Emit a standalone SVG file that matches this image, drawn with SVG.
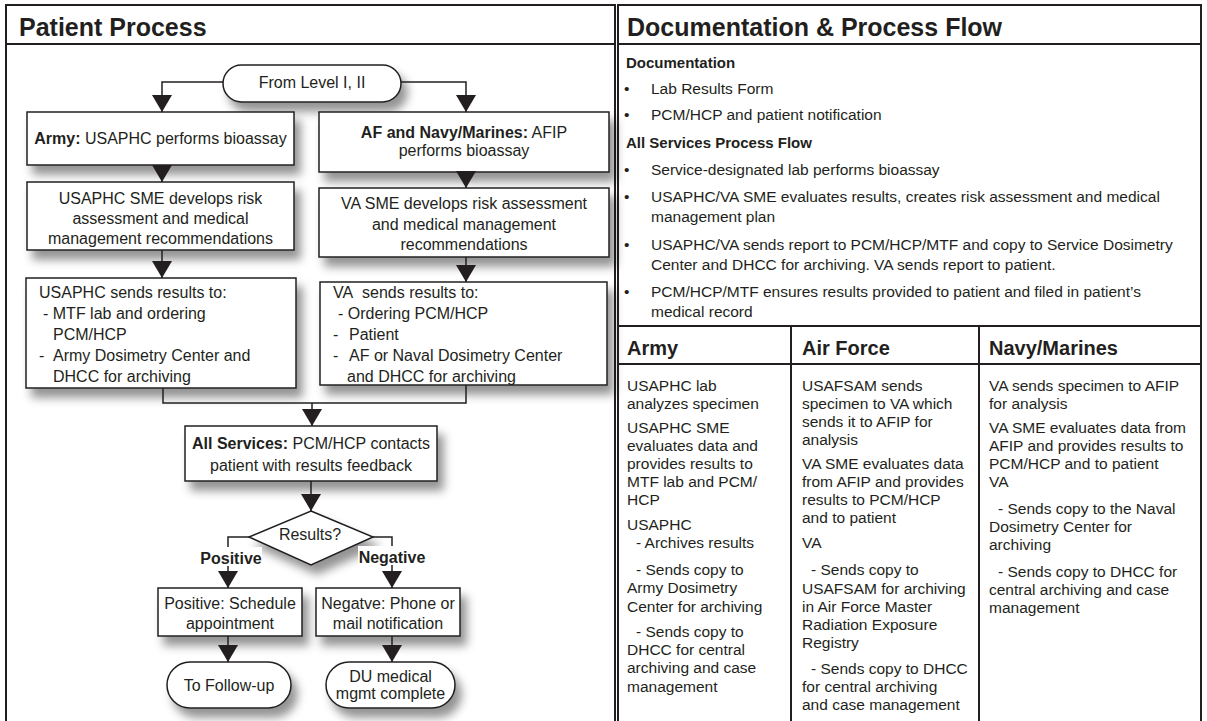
<svg xmlns="http://www.w3.org/2000/svg" width="1207" height="721" viewBox="0 0 1207 721">
<style>
.t{font-family:"Liberation Sans",Arial,Helvetica,sans-serif;fill:#231f20}
.f16{font-size:16px}
.c{text-anchor:middle}
.b{font-weight:bold}
.h{font-size:25px;font-weight:bold}
.p{font-size:15.5px}
.pb{font-size:15px;font-weight:bold}
.th{font-size:20px;font-weight:bold}
.box{fill:#fff;stroke:#231f20;stroke-width:1.5}
.frame{fill:none;stroke:#231f20;stroke-width:2}
.conn{fill:none;stroke:#231f20;stroke-width:1.5}
.arr{fill:none;stroke:#231f20;stroke-width:1.5;marker-end:url(#ah)}
</style>
<defs>
<filter id="sh" x="-20%" y="-30%" width="150%" height="190%">
<feDropShadow dx="6" dy="9" stdDeviation="5" flood-color="#000" flood-opacity="0.42"/>
</filter>
<marker id="ah" viewBox="0 0 17 20" refX="17" refY="10" markerWidth="17" markerHeight="20" markerUnits="userSpaceOnUse" orient="auto">
<path d="M0,0 L17,10 L0,20 z" fill="#231f20"/>
</marker>
</defs>
<rect x="0" y="0" width="1207" height="721" fill="#fff"/>

<g id="panel-left">
<rect class="frame" x="6" y="5" width="609" height="730"/>
<line class="frame" x1="6" y1="44" x2="615" y2="44"/>
<text class="t h" x="19" y="35.5">Patient Process</text>
</g>

<g id="panel-right">
<rect class="frame" x="618" y="5" width="583" height="730"/>
<line class="frame" x1="618" y1="44" x2="1201" y2="44"/>
<line class="frame" x1="618" y1="326" x2="1201" y2="326"/>
<line class="frame" x1="618" y1="364" x2="1201" y2="364"/>
<line class="frame" x1="791" y1="326" x2="791" y2="721"/>
<line class="frame" x1="979" y1="326" x2="979" y2="721"/>
<text class="t h" x="627" y="35.5">Documentation &amp; Process Flow</text>
<text class="t pb" x="626" y="68">Documentation</text>
<g class="t p">
<text x="624" y="93.5">•</text><text x="651" y="93.5">Lab Results Form</text>
<text x="624" y="119.5">•</text><text x="651" y="119.5">PCM/HCP and patient notification</text>
</g>
<text class="t pb" x="626" y="147.5">All Services Process Flow</text>
<g class="t p">
<text x="624" y="174.5">•</text><text x="651" y="174.5">Service-designated lab performs bioassay</text>
<text x="624" y="201.5">•</text><text x="651" y="201.5">USAPHC/VA SME evaluates results, creates risk assessment and medical</text>
<text x="651" y="221.5">management plan</text>
<text x="624" y="249.5">•</text><text x="651" y="249.5">USAPHC/VA sends report to PCM/HCP/MTF and copy to Service Dosimetry</text>
<text x="651" y="269.5">Center and DHCC for archiving. VA sends report to patient.</text>
<text x="624" y="296.5">•</text><text x="651" y="296.5">PCM/HCP/MTF ensures results provided to patient and filed in patient’s</text>
<text x="651" y="316.5">medical record</text>
</g>
<text class="t th" x="627" y="355">Army</text>
<text class="t th" x="802" y="355">Air Force</text>
<text class="t th" x="989" y="355">Navy/Marines</text>
<g class="t p">
<text x="627" y="390.5">USAPHC lab</text>
<text x="627" y="408.5">analyzes specimen</text>
<text x="627" y="432.5">USAPHC SME</text>
<text x="627" y="450.5">evaluates data and</text>
<text x="627" y="468.5">provides results to</text>
<text x="627" y="487">MTF lab and PCM/</text>
<text x="627" y="505">HCP</text>
<text x="627" y="530">USAPHC</text>
<text x="636" y="548">- Archives results</text>
<text x="636" y="575">- Sends copy to</text>
<text x="627" y="593">Army Dosimetry</text>
<text x="627" y="611.5">Center for archiving</text>
<text x="636" y="637">- Sends copy to</text>
<text x="627" y="655">DHCC for central</text>
<text x="627" y="673">archiving and case</text>
<text x="627" y="691.5">management</text>

<text x="802" y="390.5">USAFSAM sends</text>
<text x="802" y="408.5">specimen to VA which</text>
<text x="802" y="426.5">sends it to AFIP for</text>
<text x="802" y="444.5">analysis</text>
<text x="802" y="468.5">VA SME evaluates data</text>
<text x="802" y="486.5">from AFIP and provides</text>
<text x="802" y="504.5">results to PCM/HCP</text>
<text x="802" y="522.5">and to patient</text>
<text x="802" y="548">VA</text>
<text x="811" y="575">- Sends copy to</text>
<text x="802" y="593.5">USAFSAM for archiving</text>
<text x="802" y="611.5">in Air Force Master</text>
<text x="802" y="629.5">Radiation Exposure</text>
<text x="802" y="647.5">Registry</text>
<text x="811" y="673.5">- Sends copy to DHCC</text>
<text x="802" y="691.5">for central archiving</text>
<text x="802" y="709.5">and case management</text>

<text x="989" y="390.5">VA sends specimen to AFIP</text>
<text x="989" y="408.5">for analysis</text>
<text x="989" y="432.5">VA SME evaluates data from</text>
<text x="989" y="450.5">AFIP and provides results to</text>
<text x="989" y="468.5">PCM/HCP and to patient</text>
<text x="989" y="487">VA</text>
<text x="998" y="514">- Sends copy to the Naval</text>
<text x="989" y="532">Dosimetry Center for</text>
<text x="989" y="550">archiving</text>
<text x="998" y="577">- Sends copy to DHCC for</text>
<text x="989" y="595">central archiving and case</text>
<text x="989" y="613">management</text>
</g>
</g>

<g id="node-start">
<rect class="box" filter="url(#sh)" x="223" y="65" width="178" height="37" rx="18.5"/>
<text class="t f16 c" x="312" y="88">From Level I, II</text>
</g>
<g id="node-army">
<rect class="box" filter="url(#sh)" x="27" y="112" width="267" height="53"/>
<text class="t f16 c" x="160.5" y="144"><tspan class="b">Army:</tspan> USAPHC performs bioassay</text>
</g>
<g id="node-af">
<rect class="box" filter="url(#sh)" x="319" y="112" width="290" height="60"/>
<text class="t f16 c" x="464" y="137.5"><tspan class="b">AF and Navy/Marines:</tspan> AFIP</text>
<text class="t f16 c" x="464" y="156">performs bioassay</text>
</g>
<g id="node-sme-army">
<rect class="box" filter="url(#sh)" x="27" y="182" width="267" height="68"/>
<text class="t f16 c" x="160.5" y="203.5">USAPHC SME develops risk</text>
<text class="t f16 c" x="160.5" y="223.5">assessment and medical</text>
<text class="t f16 c" x="160.5" y="243.5">management recommendations</text>
</g>
<g id="node-sme-va">
<rect class="box" filter="url(#sh)" x="319" y="188" width="290" height="69"/>
<text class="t f16 c" x="464" y="209">VA SME develops risk assessment</text>
<text class="t f16 c" x="464" y="229.5">and medical management</text>
<text class="t f16 c" x="464" y="250">recommendations</text>
</g>
<g id="node-sends-army">
<rect class="box" filter="url(#sh)" x="26" y="278" width="270" height="110"/>
<text class="t f16" x="39" y="297.5">USAPHC sends results to:</text>
<text class="t f16" x="43" y="318.5">- MTF lab and ordering</text>
<text class="t f16" x="53" y="339.5">PCM/HCP</text>
<text class="t f16" x="39" y="361">-</text>
<text class="t f16" x="53" y="361">Army Dosimetry Center and</text>
<text class="t f16" x="53" y="382">DHCC for archiving</text>
</g>
<g id="node-sends-va">
<rect class="box" filter="url(#sh)" x="320" y="282" width="287" height="103"/>
<text class="t f16" x="333" y="297.5">VA&#160; sends results to:</text>
<text class="t f16" x="338" y="318.5">- Ordering PCM/HCP</text>
<text class="t f16" x="333" y="339.5">-</text>
<text class="t f16" x="349" y="339.5">Patient</text>
<text class="t f16" x="333" y="361">-</text>
<text class="t f16" x="349" y="361">AF or Naval Dosimetry Center</text>
<text class="t f16" x="347" y="381.5">and DHCC for archiving</text>
</g>
<g id="node-all">
<rect class="box" filter="url(#sh)" x="185" y="426" width="252" height="55"/>
<text class="t f16 c" x="311" y="448.5"><tspan class="b">All Services:</tspan> PCM/HCP contacts</text>
<text class="t f16 c" x="311" y="470.5">patient with results feedback</text>
</g>
<g id="node-results">
<polygon class="box" filter="url(#sh)" points="311,511 373,537 311,565 249,537"/>
<text class="t f16 c" x="310" y="539.5">Results?</text>
</g>
<g id="node-positive">
<rect class="box" filter="url(#sh)" x="158" y="588" width="144" height="48"/>
<text class="t f16 c" x="230" y="608.5">Positive: Schedule</text>
<text class="t f16 c" x="230" y="628.5">appointment</text>
</g>
<g id="node-negative">
<rect class="box" filter="url(#sh)" x="316" y="588" width="144" height="48"/>
<text class="t f16 c" x="388" y="608.5">Negatve: Phone or</text>
<text class="t f16 c" x="388" y="628.5">mail notification</text>
</g>
<g id="node-followup">
<rect class="box" filter="url(#sh)" x="167" y="662" width="124" height="46" rx="23"/>
<text class="t f16 c" x="229" y="690.5">To Follow-up</text>
</g>
<g id="node-du">
<rect class="box" filter="url(#sh)" x="326" y="662" width="129" height="46" rx="23"/>
<text class="t f16 c" x="390.5" y="681.5">DU medical</text>
<text class="t f16 c" x="390.5" y="698.5">mgmt complete</text>
</g>

<g id="connectors">
<polyline class="arr" points="223,82 162,82 162,112"/>
<polyline class="arr" points="401,82 466,82 466,112"/>
<line class="arr" x1="162" y1="165" x2="162" y2="182"/>
<line class="arr" x1="466" y1="172" x2="466" y2="188"/>
<line class="arr" x1="162" y1="250" x2="162" y2="278"/>
<line class="arr" x1="466" y1="257" x2="466" y2="282"/>
<polyline class="conn" points="163,388 163,403 466,403 466,385"/>
<line class="arr" x1="312" y1="403" x2="312" y2="426"/>
<line class="arr" x1="311" y1="481" x2="311" y2="511"/>
<polyline class="arr" points="249,537 228,537 228,588"/>
<polyline class="arr" points="373,537 392,537 392,588"/>
<line class="arr" x1="228" y1="636" x2="228" y2="662"/>
<line class="arr" x1="392" y1="636" x2="392" y2="662"/>
<rect x="200" y="547" width="62" height="19" fill="#fff"/>
<text class="t f16 b c" x="231" y="563.5">Positive</text>
<rect x="358" y="546" width="68" height="19" fill="#fff"/>
<text class="t f16 b c" x="392" y="562.5">Negative</text>
</g>
</svg>
